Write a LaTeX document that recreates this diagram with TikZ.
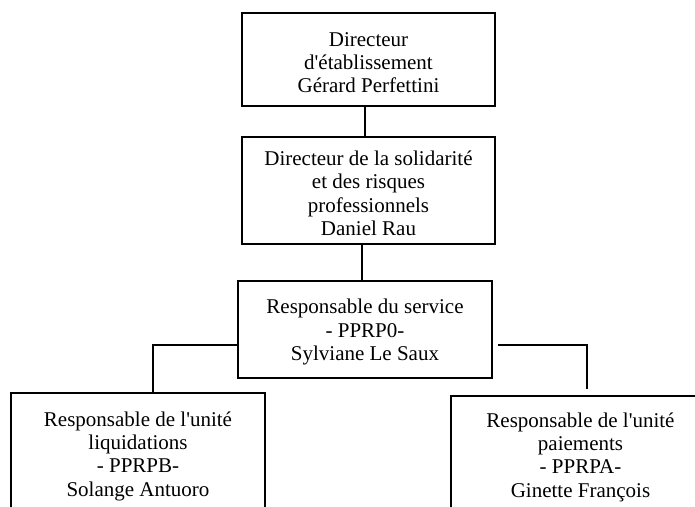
\documentclass[tikz,border=0pt]{standalone}
\usepackage{fontspec}
\setmainfont{Liberation Serif}
\newcommand{\topgap}{\rule{0pt}{20pt}}
\begin{document}
\begin{tikzpicture}[x=1pt, y=1pt,
  block/.style={draw, line width=1.6pt, align=center, inner sep=0pt,
    font=\fontsize{21}{23.3}\selectfont},
  link/.style={line width=1.8pt}]

  \useasboundingbox (0,0) rectangle (695,-506);

  % Top of the chart
  \node[block, minimum width=253, minimum height=93] (D1) at (368.5,-59.5)
    {\topgap Directeur\\d\textquotesingle établissement\\Gérard Perfettini};
  \node[block, minimum width=253, minimum height=107] (D2) at (368.5,-190.5)
    {\topgap Directeur de la solidarité\\et des risques\\professionnels\\Daniel Rau};
  \node[block, minimum width=254, minimum height=97] (S1) at (365,-329.5)
    {\topgap Responsable du service\\- PPRP0-\\Sylviane Le Saux};

  % Units (cut off at the bottom of the page)
  \node[block, minimum width=254, minimum height=121] (U1) at (138,-453.5)
    {\topgap Responsable de l\textquotesingle unité\\liquidations\\- PPRPB-\\Solange Antuoro};
  \node[block, minimum width=259, minimum height=117] (U2) at (580.5,-454.5)
    {\topgap Responsable de l\textquotesingle unité\\paiements\\- PPRPA-\\Ginette François};

  % Joints
  \coordinate (J0) at (365,0);
  \coordinate (J1) at (153,-345);
  \coordinate (J2) at (587,-345);

  % Vertical links
  \draw[link] (J0 |- D1.south) -- (J0 |- D2.north);
  \draw[link] ([xshift=-3pt]S1.north |- D2.south) -- ([xshift=-3pt]S1.north);

  % Side links
  \draw[link] (S1.west |- J1) -- (J1) -- (J1 |- U1.north);
  \draw[link] ([xshift=5pt]S1.east |- J2) -- (J2) -- ([yshift=6pt]J2 |- U2.north);

\end{tikzpicture}
\end{document}
